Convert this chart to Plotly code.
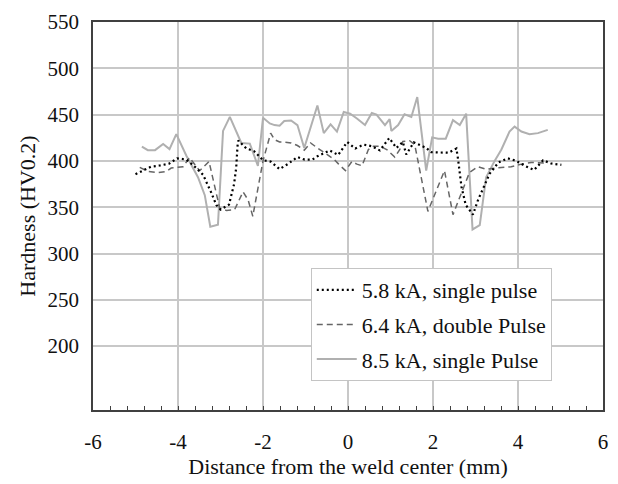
import plotly.graph_objects as go

# 5.8 kA, single pulse (dotted)
x_58 = [-5.00, -4.64, -4.43, -4.21, -4.02, -3.80, -3.61, -3.41, -3.22, -3.10,
        -3.00, -2.80, -2.68, -2.63, -2.60, -2.58, -2.39, -2.21, -2.00, -1.82,
        -1.61, -1.42, -1.19, -1.02, -0.84, -0.72, -0.43, -0.23, -0.02, 0.17,
        0.37, 0.56, 0.75, 0.97, 1.14, 1.29, 1.37, 1.55, 1.84, 1.96,
        2.37, 2.55, 2.59, 2.67, 2.77, 2.94, 3.06, 3.33, 3.54, 3.76,
        3.96, 4.16, 4.38, 4.59, 4.78, 5.02]
y_58 = [385.6, 393.7, 395, 397, 402.8, 401.4, 394, 385, 366, 352.5,
        347.5, 352.8, 375, 393, 416, 422, 413.4, 410.6, 400.7, 399.3,
        391.2, 396.5, 404.2, 401.4, 401.4, 405, 411.3, 406.4, 420.4, 413.4,
        417.6, 415.9, 411.3, 424.7, 414, 420.4, 407, 420, 414, 409.4,
        408.8, 413.4, 401.8, 371.9, 352.5, 342, 357.8, 386, 398.3, 402.8,
        400, 394.7, 390.2, 400.7, 397.2, 395.8]

# 6.4 kA, double pulse (dashed)
x_64 = [-4.90, -4.71, -4.47, -4.27, -4.16, -3.88, -3.73, -3.49, -3.27, -3.02,
        -2.86, -2.67, -2.47, -2.35, -2.24, -2.00, -1.82, -1.73, -1.61, -1.50,
        -1.34, -1.19, -1.03, -0.88, -0.72, -0.49, -0.33, -0.22, -0.06, 0.09,
        0.21, 0.33, 0.48, 0.60, 0.75, 0.91, 1.10, 1.22, 1.29, 1.45,
        1.57, 1.88, 2.27, 2.47, 2.86, 3.06, 3.25, 3.49, 3.84, 4.08,
        4.31, 4.70]
y_64 = [393, 388.7, 387.3, 388.7, 392.3, 393.7, 403.5, 389.4, 399.3, 349,
        346.5, 347.2, 366.6, 357.8, 340.2, 400, 430, 423, 420.4, 420.4,
        419.4, 416.6, 411.6, 419.4, 414, 406.4, 401.8, 396.5, 389.5, 399.3,
        396.5, 394.7, 412.3, 415.9, 415.9, 412.3, 404.2, 412.3, 421, 421.8,
        417.6, 345.5, 389.5, 342, 387.7, 393.7, 390.9, 392.3, 393.7, 396.5,
        398.3, 397.6]

# 8.5 kA, single pulse (solid gray)
x_85 = [-4.85, -4.71, -4.54, -4.35, -4.20, -4.04, -3.80, -3.53, -3.37, -3.24,
        -3.06, -2.94, -2.78, -2.59, -2.51, -2.31, -2.12, -2.00, -1.84, -1.73,
        -1.61, -1.50, -1.34, -1.19, -1.03, -0.72, -0.57, -0.41, -0.26, -0.10,
        0.05, 0.21, 0.40, 0.56, 0.67, 0.87, 0.98, 1.02, 1.18, 1.33,
        1.49, 1.63, 1.84, 1.98, 2.12, 2.30, 2.47, 2.63, 2.78, 2.93,
        3.10, 3.25, 3.45, 3.61, 3.80, 3.92, 4.08, 4.27, 4.47, 4.70]
y_85 = [415.5, 411.6, 411.6, 418.3, 412.7, 428.9, 405.3, 382.4, 363, 328.9,
        331, 432.4, 447.5, 428.2, 419.4, 418.7, 394.7, 446.5, 440.5, 438.7,
        438, 443, 443.7, 438.7, 414, 459.9, 430, 439.4, 431.7, 452.8,
        451, 445.8, 438.7, 451.8, 450, 438.7, 445, 432.4, 438.7, 450.4,
        447.5, 469, 389.5, 425.4, 424, 424, 444, 438.7, 451, 326,
        330.7, 382.4, 400, 412.3, 431.7, 437, 431.7, 428.9, 430, 433.5]

names = ["5.8 kA, single pulse", "6.4 kA, double Pulse", "8.5 kA, single Pulse"]
y_ticks = [200, 250, 300, 350, 400, 450, 500, 550]
x_ticks = [-6, -4, -2, 0, 2, 4, 6]

FONT = "Liberation Serif"

fig = go.Figure()
fig.add_trace(go.Scatter(x=x_85, y=y_85, mode="lines", name=names[2],
                         legendgroup="c", legendrank=3,
                         line=dict(color="#b0b0b0", width=2)))
fig.add_trace(go.Scatter(x=x_64, y=y_64, mode="lines", name=names[1],
                         legendgroup="b", legendrank=2,
                         line=dict(color="#666666", width=1.5, dash="6px,4px")))
fig.add_trace(go.Scatter(x=x_58, y=y_58, mode="lines", name=names[0],
                         legendgroup="a", legendrank=1,
                         line=dict(color="#000000", width=2.2, dash="2px,3px")))

fig.update_layout(
    width=618, height=484,
    margin=dict(l=93, r=10, t=18, b=71),
    paper_bgcolor="white", plot_bgcolor="white",
    font=dict(family=FONT, size=21, color="#111"),
    showlegend=True,
    legend=dict(x=0.427, y=0.366, xanchor="left", yanchor="top",
                bgcolor="white", bordercolor="#c4c4c4", borderwidth=1,
                font=dict(family=FONT, size=22, color="#111"),
                traceorder="grouped", tracegroupgap=3,
                itemwidth=40),
    xaxis=dict(range=[-6, 6], tickvals=x_ticks, ticktext=[str(v) for v in x_ticks],
               showgrid=True, gridcolor="#c8c8c8", gridwidth=1.5,
               zeroline=False, showline=True, linecolor="#404040", linewidth=1.5,
               mirror=True, ticks="inside", ticklen=4, tickcolor="#404040",
               tickwidth=1.2, ticklabelstandoff=12,
               tickfont=dict(family=FONT, size=21),
               minor=dict(dtick=0.4, ticks="inside", ticklen=4, tickcolor="#404040",
                          tickwidth=1.2, showgrid=False),
               title=dict(text="Distance from the weld center (mm)", standoff=5,
                          font=dict(family=FONT, size=22))),
    yaxis=dict(range=[131, 550], tickvals=y_ticks, ticktext=[str(v) for v in y_ticks],
               showgrid=True, gridcolor="#c8c8c8", gridwidth=1.5,
               zeroline=False, showline=True, linecolor="#404040", linewidth=1.5,
               mirror=True, ticks="", ticklabelstandoff=8,
               tickfont=dict(family=FONT, size=21),
               title=dict(text="Hardness (HV0.2)", standoff=6,
                          font=dict(family=FONT, size=22))),
)

fig.write_html("out.html")
